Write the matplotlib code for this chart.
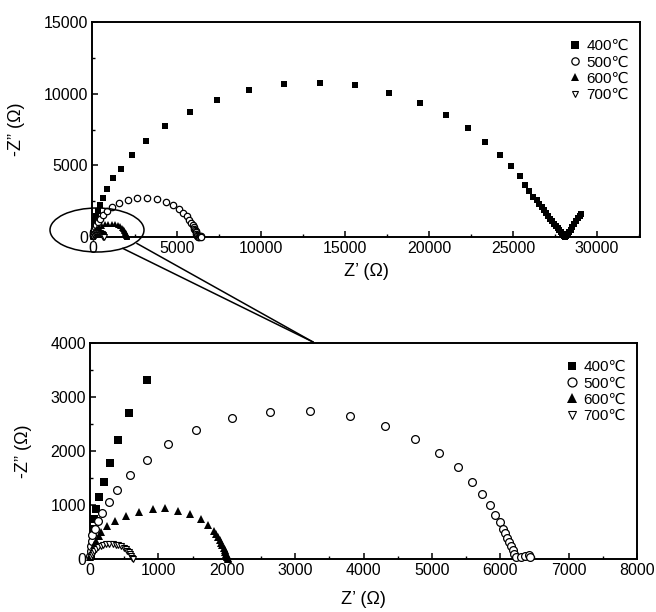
import matplotlib
matplotlib.use('Agg')
import matplotlib.pyplot as plt
from matplotlib.patches import Ellipse
from matplotlib.lines import Line2D
from matplotlib.ticker import MultipleLocator

plt.rcParams['font.family'] = ['Liberation Sans', 'DejaVu Sans']

labels = ['400℃', '500℃', '600℃', '700℃']

# 400 C (filled squares)
z400_re = [5, 12, 20, 30, 42, 59, 93, 137, 206, 289, 406, 577, 827, 1200, 1667, 2321,
           3175, 4286, 5754, 7401, 9286, 11349, 13492, 15615, 17639, 19444, 21012,
           22302, 23333, 24206, 24900, 25417, 25714, 25952, 26210, 26400, 26560, 26700,
           26840, 26980, 27110, 27230, 27350, 27460, 27560, 27660, 27750, 27840, 27920,
           27990, 28050, 28100, 28170, 28250, 28340, 28440, 28540, 28650, 28760, 28870,
           28980, 29070]
z400_im = [50, 150, 270, 400, 560, 741, 926, 1154, 1432, 1783, 2198, 2698, 3320, 4150,
           4743, 5694, 6688, 7731, 8704, 9560, 10231, 10671, 10764, 10579, 10069, 9375,
           8495, 7593, 6620, 5694, 4920, 4259, 3611, 3194, 2800, 2560, 2330, 2120, 1900,
           1690, 1480, 1290, 1100, 920, 760, 610, 470, 340, 230, 140, 70, 20, 60, 190,
           340, 500, 700, 900, 1110, 1320, 1500, 1620]

# 500 C (open circles)
z500_re = [5, 10, 18, 25, 34, 73, 122, 181, 275, 401, 583, 827, 1145, 1557, 2070, 2633,
           3216, 3799, 4317, 4758, 5106, 5384, 5590, 5732, 5845, 5929, 5992, 6041, 6070,
           6105, 6135, 6158, 6183, 6203, 6228, 6300, 6358, 6417, 6436]
z500_im = [60, 150, 240, 340, 444, 550, 704, 857, 1056, 1283, 1556, 1833, 2123, 2389,
           2605, 2728, 2747, 2655, 2469, 2231, 1957, 1698, 1432, 1198, 994, 821, 685, 562,
           475, 395, 315, 240, 167, 93, 31, 31, 55, 74, 31]

# 600 C (filled triangles)
z600_re = [5, 20, 40, 65, 95, 125, 157, 254, 367, 524, 719, 915, 1101, 1282, 1468, 1620,
           1733, 1811, 1845, 1872, 1897, 1918, 1937, 1954, 1968, 1981, 1992, 2001, 2008,
           2013, 2017]
z600_im = [30, 100, 180, 260, 340, 420, 506, 611, 709, 796, 876, 926, 938, 894, 833, 741,
           630, 524, 460, 405, 350, 300, 255, 210, 170, 132, 98, 68, 42, 20, 5]

# 700 C (open down-triangles)
z700_re = [20, 30, 45, 65, 90, 120, 155, 195, 240, 285, 330, 375, 415, 455, 490, 520,
           548, 570, 590, 605, 618, 628]
z700_im = [30, 70, 110, 150, 185, 215, 240, 260, 272, 278, 276, 268, 255, 235, 212, 185,
           155, 122, 88, 55, 25, 5]

W, H = 656, 612
fig = plt.figure(figsize=(W / 100, H / 100), dpi=100)
ax1 = fig.add_axes([92 / W, 1 - 237 / H, 548 / W, 215 / H])
ax2 = fig.add_axes([90 / W, 1 - 559 / H, 547 / W, 216 / H])


def draw(ax, ms, clip400):
    ax.plot(z400_re, z400_im, 's', color='black', ms=ms[0], mew=0, label=labels[0],
            clip_on=clip400, zorder=3)
    ax.plot(z500_re, z500_im, 'o', mfc='white', mec='black', ms=ms[1], mew=0.9,
            label=labels[1], clip_on=False, zorder=3)
    ax.plot(z600_re, z600_im, '^', color='black', ms=ms[2], mew=0, label=labels[2],
            clip_on=False, zorder=3)
    ax.plot(z700_re, z700_im, 'v', mfc='white', mec='black', ms=ms[3], mew=0.8,
            label=labels[3], clip_on=False, zorder=3)


draw(ax1, (5, 4.6, 4.5, 4.2), False)
draw(ax2, (5.2, 5.6, 6, 5), True)

ax1.set_xlim(-60, 32560)
ax1.set_ylim(0, 15000)
ax1.xaxis.set_major_locator(MultipleLocator(5000))
ax1.xaxis.set_minor_locator(MultipleLocator(2500))
ax1.yaxis.set_major_locator(MultipleLocator(5000))
ax1.yaxis.set_minor_locator(MultipleLocator(2500))

ax2.set_xlim(0, 8000)
ax2.set_ylim(0, 4000)
ax2.xaxis.set_major_locator(MultipleLocator(1000))
ax2.xaxis.set_minor_locator(MultipleLocator(500))
ax2.yaxis.set_major_locator(MultipleLocator(1000))
ax2.yaxis.set_minor_locator(MultipleLocator(500))

for ax, xlp in ((ax1, 5), (ax2, 9)):
    for s in ax.spines.values():
        s.set_linewidth(1.4)
    ax.tick_params(which='major', direction='in', length=4, width=1.1, labelsize=11.5,
                   pad=3, top=False, right=False)
    ax.tick_params(which='minor', direction='in', length=2.5, width=1, top=False,
                   right=False)
    ax.set_xlabel('Z’ (Ω)', fontsize=13, labelpad=xlp)
    ax.set_ylabel('-Z” (Ω)', fontsize=13, labelpad=13)
    ax.legend(loc='upper right', bbox_to_anchor=(1.0, 0.97), frameon=False, fontsize=11,
              handlelength=0.8, handletextpad=0.35, labelspacing=0.15, borderaxespad=0.3,
              markerscale=1.15)

# zoom callout (annotation in pixel coordinates)
ov = fig.add_axes([0, 0, 1, 1], zorder=10)
ov.set_xlim(0, W)
ov.set_ylim(H, 0)
ov.axis('off')
ov.patch.set_alpha(0)
ov.add_patch(Ellipse((97, 230), 94, 44, fill=False, ec='black', lw=1.1))
ov.add_line(Line2D([137, 313], [243.5, 342], color='black', lw=1.1))
ov.add_line(Line2D([123, 313], [248.5, 342], color='black', lw=1.1))

fig.savefig('out.png', dpi=100)
